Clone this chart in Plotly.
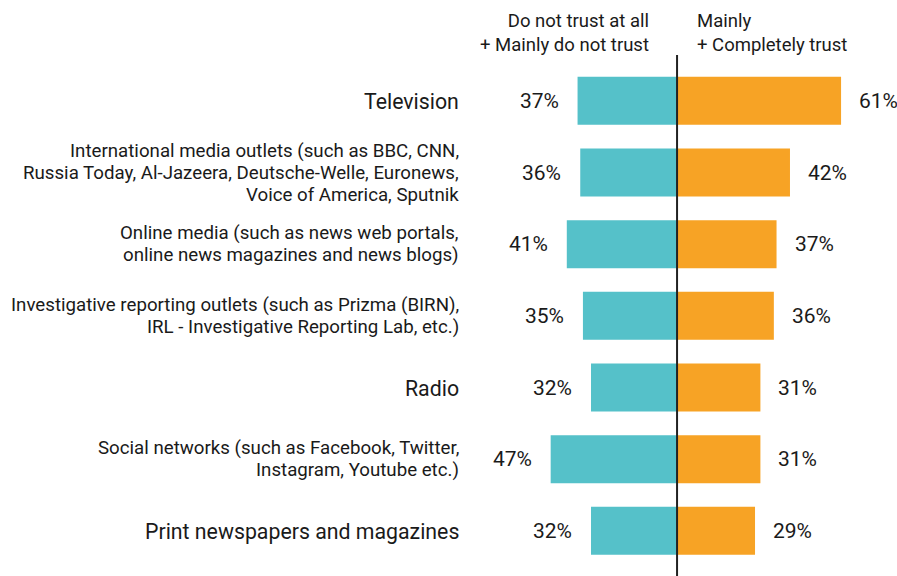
import plotly.graph_objects as go

categories = [
    "Television",
    "International media outlets (such as BBC, CNN,<br>Russia Today, Al-Jazeera, Deutsche-Welle, Euronews,<br>Voice of America, Sputnik",
    "Online media (such as news web portals,<br>online news magazines and news blogs)",
    "Investigative reporting outlets (such as Prizma (BIRN),<br>IRL - Investigative Reporting Lab, etc.)",
    "Radio",
    "Social networks (such as Facebook, Twitter,<br>Instagram, Youtube etc.)",
    "Print newspapers and magazines",
]
distrust = [37, 36, 41, 35, 32, 47, 32]
trust = [61, 42, 37, 36, 31, 31, 29]

TEAL = "#55C1C9"
ORANGE = "#F7A325"
TEXT = "#1a1a1a"
FONT = "Roboto"
LINE_GAP = 22  # px between lines of a wrapped category label

ypos = list(range(len(categories)))

fig = go.Figure()
fig.add_trace(go.Bar(
    y=ypos, x=[-v for v in distrust], orientation="h",
    marker=dict(color=TEAL, line=dict(width=0)), width=0.67,
    hoverinfo="skip", showlegend=False,
))
fig.add_trace(go.Bar(
    y=ypos, x=trust, orientation="h",
    marker=dict(color=ORANGE, line=dict(width=0)), width=0.67,
    hoverinfo="skip", showlegend=False,
))

annotations = []
for i, (cat, d, t) in enumerate(zip(categories, distrust, trust)):
    lines = cat.split("<br>")
    n = len(lines)
    for k, line in enumerate(lines):
        annotations.append(dict(
            x=0, xref="paper", y=i, yref="y", text=line, showarrow=False,
            xanchor="right", yanchor="middle", align="right", xshift=-9,
            yshift=((n - 1) / 2 - k) * LINE_GAP - (1 if n == 1 else 0),
            font=dict(family=FONT, size=18.7 if n > 1 else 21.3, color=TEXT),
        ))
    annotations.append(dict(
        x=-d, xref="x", y=i, yref="y", text=f"{d}%", showarrow=False,
        xanchor="right", yanchor="middle", xshift=-17,
        font=dict(family=FONT, size=21, color=TEXT),
    ))
    annotations.append(dict(
        x=t, xref="x", y=i, yref="y", text=f"{t}%", showarrow=False,
        xanchor="left", yanchor="middle", xshift=16,
        font=dict(family=FONT, size=21, color=TEXT),
    ))

annotations.append(dict(
    x=0, xref="x", y=1, yref="paper", text="Do not trust at all<br>+ Mainly do not trust",
    showarrow=False, xanchor="right", yanchor="bottom", align="right",
    xshift=-26, yshift=-3, font=dict(family=FONT, size=18.5, color=TEXT),
))
annotations.append(dict(
    x=0, xref="x", y=1, yref="paper", text="Mainly<br>+ Completely trust",
    showarrow=False, xanchor="left", yanchor="bottom", align="left",
    xshift=18, yshift=-3, font=dict(family=FONT, size=18.5, color=TEXT),
))

fig.add_shape(type="line", xref="x", yref="paper", x0=0, x1=0, y0=0, y1=1,
              line=dict(color="#222222", width=2), layer="above")

fig.update_layout(
    width=897, height=576,
    margin=dict(l=470, r=0, t=55, b=0),
    paper_bgcolor="white", plot_bgcolor="white",
    barmode="relative",
    xaxis=dict(range=[-77, 81.8], visible=False, fixedrange=True),
    yaxis=dict(range=[6.63, -0.64], visible=False, fixedrange=True),
    annotations=annotations,
    font=dict(family=FONT, color=TEXT),
)

fig.write_html("out.html")
